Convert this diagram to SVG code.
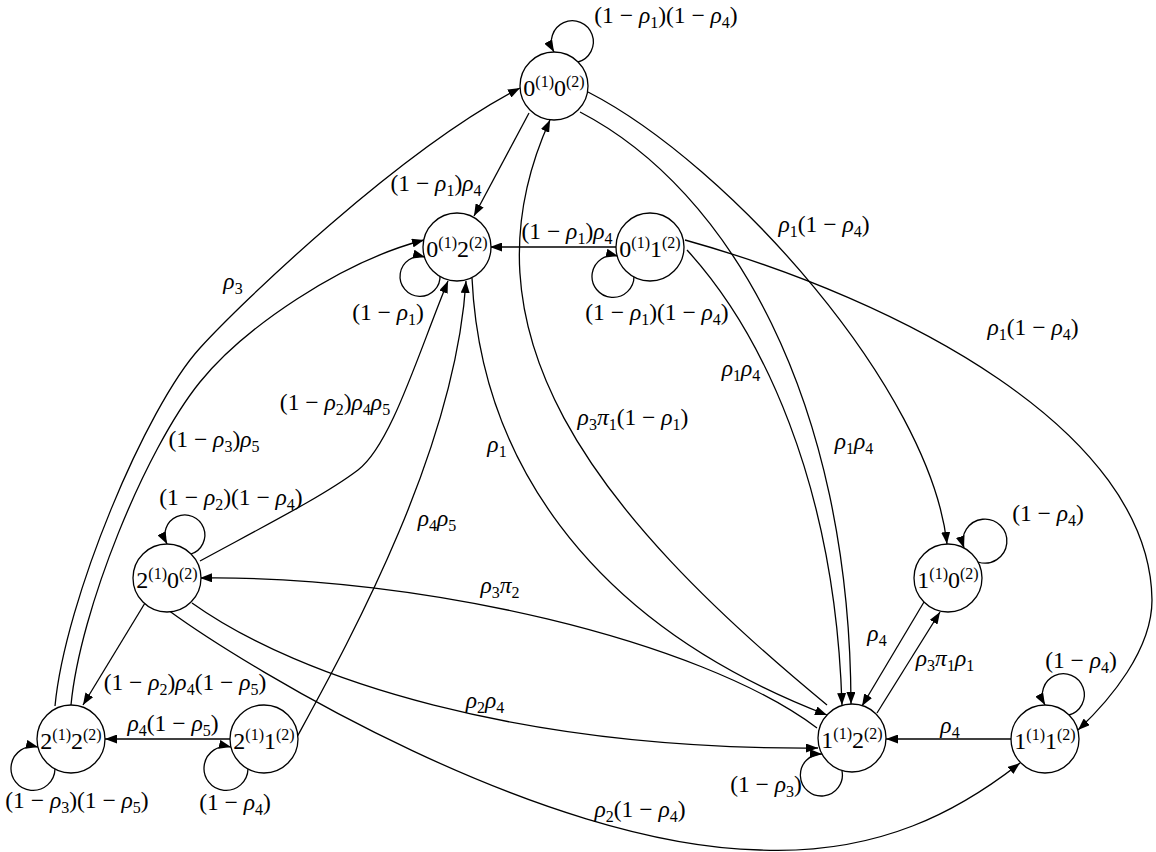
<svg xmlns="http://www.w3.org/2000/svg" width="1156" height="852" viewBox="0 0 1156 852">
<style>
.t{font-family:"Liberation Serif","Times New Roman",serif;font-size:23.5px;fill:#000;text-anchor:middle}
.n{font-size:24px}
.i{font-style:italic}
.s{font-size:16px}
.c{fill:#fff;stroke:#000;stroke-width:1.3}
.e{fill:none;stroke:#000;stroke-width:1.3;marker-end:url(#ah)}
</style>
<defs>
<marker id="ah" markerUnits="userSpaceOnUse" markerWidth="13" markerHeight="9" refX="12" refY="4.5" orient="auto">
<path d="M0,0 L12,4.5 L0,9 z" fill="#000"/>
</marker>
</defs>
<rect width="1156" height="852" fill="#fff"/>
<g id="connectors">
<path class="e" d="M578,62 A21,21 0 1 0 554,52"/>
<path class="e" d="M440,275 A20,20 0 1 1 425,257"/>
<path class="e" d="M634,276 A21,21 0 1 1 618,256"/>
<path class="e" d="M191,554 A20,20 0 1 0 167,544"/>
<path class="e" d="M55,769 A22,22 0 1 1 38,747"/>
<path class="e" d="M248,769 A22,22 0 1 1 231,747"/>
<path class="e" d="M978,562 A22,22 0 1 0 964,548"/>
<path class="e" d="M1069,715 A21,21 0 1 0 1045,705"/>
<path class="e" d="M842,771 A21,21 0 1 1 822,754"/>
<path class="e" d="M529,113 L474,216"/>
<path class="e" d="M617,247 L490,247"/>
<path class="e" d="M924,602 L862,706"/>
<path class="e" d="M877,713 L940,612"/>
<path class="e" d="M1011,739 L886,739"/>
<path class="e" d="M145,603 L83,705"/>
<path class="e" d="M231,739 L105,739"/>
<path class="e" d="M55,706 C65,600 146,407 200,348 C240,304 400,150 520,88"/>
<path class="e" d="M71,705 C80,610 145,450 200,382 C244,328 340,262 424,240"/>
<path class="e" d="M200,561 C270,523 325,495 358,470 C391,445 418,354 448,281"/>
<path class="e" d="M297,737 C350,640 455,450 466,281"/>
<path class="e" d="M472,278 C480,450 580,620 827,715"/>
<path class="e" d="M827,705 C590,510 455,330 550,120"/>
<path class="e" d="M580,112 C730,190 850,400 851,704"/>
<path class="e" d="M687,250 C760,330 835,480 842,705"/>
<path class="e" d="M588,92 C730,165 930,390 947,544"/>
<path class="e" d="M685,240 C900,300 1150,430 1152,600 C1152,650 1110,700 1078,730"/>
<path class="e" d="M817,728 C700,640 420,575 200,578"/>
<path class="e" d="M192,603 C300,680 520,750 818,748"/>
<path class="e" d="M168,610 C250,670 540,845 760,850 C880,855 960,810 1020,763"/>
</g>
<g id="edge-labels">
<text class="t" x="666" y="23">(1 − <tspan class="i">ρ</tspan><tspan class="s" dy="5">1</tspan><tspan dy="-5">)(1 − </tspan><tspan class="i">ρ</tspan><tspan class="s" dy="5">4</tspan><tspan dy="-5">)</tspan></text>
<text class="t" x="436" y="191">(1 − <tspan class="i">ρ</tspan><tspan class="s" dy="5">1</tspan><tspan dy="-5">)</tspan><tspan class="i">ρ</tspan><tspan class="s" dy="5">4</tspan></text>
<text class="t" x="233" y="289"><tspan class="i">ρ</tspan><tspan class="s" dy="5">3</tspan></text>
<text class="t" x="388" y="320">(1 − <tspan class="i">ρ</tspan><tspan class="s" dy="5">1</tspan><tspan dy="-5">)</tspan></text>
<text class="t" x="567" y="239">(1 − <tspan class="i">ρ</tspan><tspan class="s" dy="5">1</tspan><tspan dy="-5">)</tspan><tspan class="i">ρ</tspan><tspan class="s" dy="5">4</tspan></text>
<text class="t" x="657" y="320">(1 − <tspan class="i">ρ</tspan><tspan class="s" dy="5">1</tspan><tspan dy="-5">)(1 − </tspan><tspan class="i">ρ</tspan><tspan class="s" dy="5">4</tspan><tspan dy="-5">)</tspan></text>
<text class="t" x="824" y="232"><tspan class="i">ρ</tspan><tspan class="s" dy="5">1</tspan><tspan dy="-5">(1 − </tspan><tspan class="i">ρ</tspan><tspan class="s" dy="5">4</tspan><tspan dy="-5">)</tspan></text>
<text class="t" x="1033" y="335"><tspan class="i">ρ</tspan><tspan class="s" dy="5">1</tspan><tspan dy="-5">(1 − </tspan><tspan class="i">ρ</tspan><tspan class="s" dy="5">4</tspan><tspan dy="-5">)</tspan></text>
<text class="t" x="741" y="376"><tspan class="i">ρ</tspan><tspan class="s" dy="5">1</tspan><tspan class="i" dy="-5">ρ</tspan><tspan class="s" dy="5">4</tspan></text>
<text class="t" x="854" y="449"><tspan class="i">ρ</tspan><tspan class="s" dy="5">1</tspan><tspan class="i" dy="-5">ρ</tspan><tspan class="s" dy="5">4</tspan></text>
<text class="t" x="633" y="425"><tspan class="i">ρ</tspan><tspan class="s" dy="5">3</tspan><tspan class="i" dy="-5">π</tspan><tspan class="s" dy="5">1</tspan><tspan dy="-5">(1 − </tspan><tspan class="i">ρ</tspan><tspan class="s" dy="5">1</tspan><tspan dy="-5">)</tspan></text>
<text class="t" x="335" y="410">(1 − <tspan class="i">ρ</tspan><tspan class="s" dy="5">2</tspan><tspan dy="-5">)</tspan><tspan class="i">ρ</tspan><tspan class="s" dy="5">4</tspan><tspan class="i" dy="-5">ρ</tspan><tspan class="s" dy="5">5</tspan></text>
<text class="t" x="214" y="447">(1 − <tspan class="i">ρ</tspan><tspan class="s" dy="5">3</tspan><tspan dy="-5">)</tspan><tspan class="i">ρ</tspan><tspan class="s" dy="5">5</tspan></text>
<text class="t" x="497" y="452"><tspan class="i">ρ</tspan><tspan class="s" dy="5">1</tspan></text>
<text class="t" x="231" y="505">(1 − <tspan class="i">ρ</tspan><tspan class="s" dy="5">2</tspan><tspan dy="-5">)(1 − </tspan><tspan class="i">ρ</tspan><tspan class="s" dy="5">4</tspan><tspan dy="-5">)</tspan></text>
<text class="t" x="437" y="526"><tspan class="i">ρ</tspan><tspan class="s" dy="5">4</tspan><tspan class="i" dy="-5">ρ</tspan><tspan class="s" dy="5">5</tspan></text>
<text class="t" x="1048" y="521">(1 − <tspan class="i">ρ</tspan><tspan class="s" dy="5">4</tspan><tspan dy="-5">)</tspan></text>
<text class="t" x="500" y="593"><tspan class="i">ρ</tspan><tspan class="s" dy="5">3</tspan><tspan class="i" dy="-5">π</tspan><tspan class="s" dy="5">2</tspan></text>
<text class="t" x="877" y="641"><tspan class="i">ρ</tspan><tspan class="s" dy="5">4</tspan></text>
<text class="t" x="945" y="666"><tspan class="i">ρ</tspan><tspan class="s" dy="5">3</tspan><tspan class="i" dy="-5">π</tspan><tspan class="s" dy="5">1</tspan><tspan class="i" dy="-5">ρ</tspan><tspan class="s" dy="5">1</tspan></text>
<text class="t" x="1081" y="668">(1 − <tspan class="i">ρ</tspan><tspan class="s" dy="5">4</tspan><tspan dy="-5">)</tspan></text>
<text class="t" x="950" y="733"><tspan class="i">ρ</tspan><tspan class="s" dy="5">4</tspan></text>
<text class="t" x="766" y="792">(1 − <tspan class="i">ρ</tspan><tspan class="s" dy="5">3</tspan><tspan dy="-5">)</tspan></text>
<text class="t" x="485" y="708"><tspan class="i">ρ</tspan><tspan class="s" dy="5">2</tspan><tspan class="i" dy="-5">ρ</tspan><tspan class="s" dy="5">4</tspan></text>
<text class="t" x="640" y="817"><tspan class="i">ρ</tspan><tspan class="s" dy="5">2</tspan><tspan dy="-5">(1 − </tspan><tspan class="i">ρ</tspan><tspan class="s" dy="5">4</tspan><tspan dy="-5">)</tspan></text>
<text class="t" x="185" y="690">(1 − <tspan class="i">ρ</tspan><tspan class="s" dy="5">2</tspan><tspan dy="-5">)</tspan><tspan class="i">ρ</tspan><tspan class="s" dy="5">4</tspan><tspan dy="-5">(1 − </tspan><tspan class="i">ρ</tspan><tspan class="s" dy="5">5</tspan><tspan dy="-5">)</tspan></text>
<text class="t" x="173" y="731"><tspan class="i">ρ</tspan><tspan class="s" dy="5">4</tspan><tspan dy="-5">(1 − </tspan><tspan class="i">ρ</tspan><tspan class="s" dy="5">5</tspan><tspan dy="-5">)</tspan></text>
<text class="t" x="77" y="808">(1 − <tspan class="i">ρ</tspan><tspan class="s" dy="5">3</tspan><tspan dy="-5">)(1 − </tspan><tspan class="i">ρ</tspan><tspan class="s" dy="5">5</tspan><tspan dy="-5">)</tspan></text>
<text class="t" x="235" y="810">(1 − <tspan class="i">ρ</tspan><tspan class="s" dy="5">4</tspan><tspan dy="-5">)</tspan></text>
</g>
<g id="n00"><circle class="c" cx="554" cy="86" r="34"/><text class="t n" x="554" y="96">0<tspan class="s" dy="-9">(1)</tspan><tspan dy="9">0</tspan><tspan class="s" dy="-9">(2)</tspan></text></g>
<g id="n02"><circle class="c" cx="457" cy="247" r="34"/><text class="t n" x="457" y="257">0<tspan class="s" dy="-9">(1)</tspan><tspan dy="9">2</tspan><tspan class="s" dy="-9">(2)</tspan></text></g>
<g id="n01"><circle class="c" cx="650" cy="247" r="34"/><text class="t n" x="650" y="257">0<tspan class="s" dy="-9">(1)</tspan><tspan dy="9">1</tspan><tspan class="s" dy="-9">(2)</tspan></text></g>
<g id="n20"><circle class="c" cx="167" cy="578" r="34"/><text class="t n" x="167" y="588">2<tspan class="s" dy="-9">(1)</tspan><tspan dy="9">0</tspan><tspan class="s" dy="-9">(2)</tspan></text></g>
<g id="n22"><circle class="c" cx="71" cy="739" r="34"/><text class="t n" x="71" y="749">2<tspan class="s" dy="-9">(1)</tspan><tspan dy="9">2</tspan><tspan class="s" dy="-9">(2)</tspan></text></g>
<g id="n21"><circle class="c" cx="264" cy="739" r="34"/><text class="t n" x="264" y="749">2<tspan class="s" dy="-9">(1)</tspan><tspan dy="9">1</tspan><tspan class="s" dy="-9">(2)</tspan></text></g>
<g id="n10"><circle class="c" cx="948" cy="578" r="34"/><text class="t n" x="948" y="588">1<tspan class="s" dy="-9">(1)</tspan><tspan dy="9">0</tspan><tspan class="s" dy="-9">(2)</tspan></text></g>
<g id="n12"><circle class="c" cx="852" cy="738" r="34"/><text class="t n" x="852" y="748">1<tspan class="s" dy="-9">(1)</tspan><tspan dy="9">2</tspan><tspan class="s" dy="-9">(2)</tspan></text></g>
<g id="n11"><circle class="c" cx="1045" cy="739" r="34"/><text class="t n" x="1045" y="749">1<tspan class="s" dy="-9">(1)</tspan><tspan dy="9">1</tspan><tspan class="s" dy="-9">(2)</tspan></text></g>
</svg>
